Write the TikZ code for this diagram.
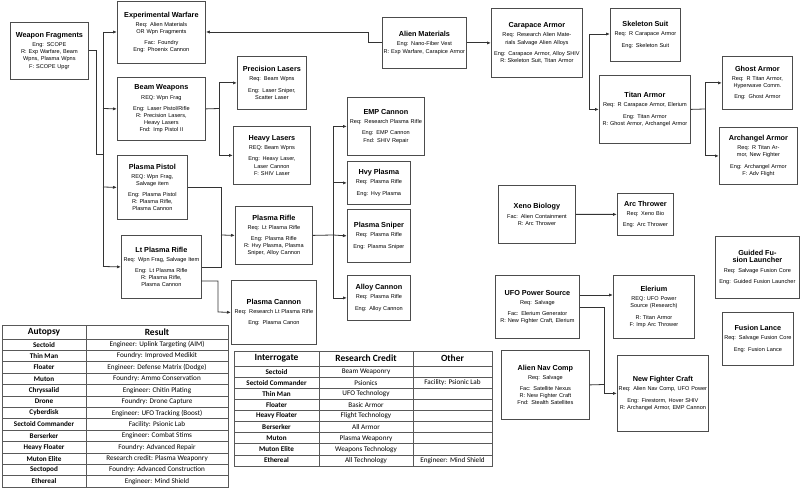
\documentclass[tikz,border=0pt]{standalone}
\usepackage{fontspec}
\setmainfont{Liberation Sans}
\newfontfamily\tblfont{Carlito}
\usetikzlibrary{arrows.meta}
\newcommand\ttl[1]{{\fontsize{7.3}{9}\selectfont\bfseries #1}\\[2pt]}
\begin{document}
\begin{tikzpicture}[x=1bp,y=-1bp,
  box/.style={draw=black!70, line width=0.8pt, fill=white, anchor=north west, align=center, inner sep=1pt, font=\fontsize{5.6}{7.2}\selectfont},
  con/.style={draw=black!80, line width=0.8pt},
  arr/.style={con, -{Latex[length=4pt,width=3.2pt]}},
  grid/.style={draw=black!65, line width=0.6pt},
  tb/.style={font=\tblfont\fontsize{7.2}{8}\selectfont\bfseries, inner sep=0pt},
  tr/.style={font=\tblfont\fontsize{7.2}{8}\selectfont, inner sep=0pt},
  th/.style={font=\tblfont\fontsize{9.5}{11}\selectfont\bfseries, inner sep=0pt}]
\useasboundingbox (0,0) rectangle (800,489);
\fill[white] (0,0) rectangle (800,489);
\newcommand\bx[6]{\node[box, text width=#3 bp - 2bp, minimum height=#4 bp] (#5) at (#1,#2) {#6};}
\bx{10}{22}{78}{57}{wf}{\ttl{Weapon Fragments}Eng: SCOPE\\R: Exp Warfare, Beam Wpns, Plasma Wpns\\F: SCOPE Upgr}
\bx{117}{1}{88}{62}{ew}{\ttl{Experimental Warfare}Req: Alien Materials OR Wpn Fragments\\[4pt]Fac: Foundry\\Eng: Phoenix Cannon}
\bx{117}{77}{88}{63}{bw}{\ttl{Beam Weapons}REQ: Wpn Frag\\[4pt]Eng: Laser Pistol/Rifle\\R: Precision Lasers, Heavy Lasers\\Fnd: Imp Pistol II}
\bx{237}{56}{69}{53}{pl}{\ttl{Precision Lasers}Req: Beam Wpns\\[4pt]Eng: Laser Sniper, Scatter Laser}
\bx{233}{126}{77}{58}{hl}{\ttl{Heavy Lasers}REQ: Beam Wpns\\[4pt]Eng: Heavy Laser, Laser Cannon\\F: SHIV Laser}
\bx{117}{155}{70}{64}{pp}{\ttl{Plasma Pistol}REQ: Wpn Frag, Salvage item\\[4pt]Eng: Plasma Pistol\\R: Plasma Rifle, Plasma Cannon}
\bx{121}{235}{80}{63}{lpr}{\ttl{Lt Plasma Rifle}Req: Wpn Frag, Salvage Item\\[4pt]Eng: Lt Plasma Rifle\\R: Plasma Rifle, Plasma Cannon}
\bx{235}{206}{77}{58}{pr}{\ttl{Plasma Rifle}Req: Lt Plasma Rifle\\[4pt]Eng: Plasma Rifle\\R: Hvy Plasma, Plasma Sniper, Alloy Cannon}
\bx{231}{280}{85}{64}{pc}{\ttl{Plasma Cannon}Req: Research Lt Plasma Rifle\\[4pt]Eng: Plasma Canon}
\bx{347}{97}{77}{58}{emp}{\ttl{EMP Cannon}Req: Research Plasma Rifle\\[4pt]Eng: EMP Cannon\\Fnd: SHIV Repair}
\bx{347}{161}{63}{43}{hvy}{\ttl{Hvy Plasma}Req: Plasma Rifle\\[4pt]Eng: Hvy Plasma}
\bx{347}{209}{63}{53}{sn}{\ttl{Plasma Sniper}Req: Plasma Rifle\\[4pt]Eng: Plasma Sniper}
\bx{347}{275}{63}{45}{al}{\ttl{Alloy Cannon}Req: Plasma Rifle\\[4pt]Eng: Alloy Cannon}
\bx{382}{17}{84}{51}{am}{\ttl{Alien Materials}Eng: Nano-Fiber Vest\\R: Exp Warfare, Carapice Armor}
\bx{491}{8}{91}{69}{ca}{\ttl{Carapace Armor}Req: Research Alien Materials Salvage Alien Alloys\\[4pt]Eng: Carapace Armor, Alloy SHIV\\R: Skeleton Suit, Titan Armor}
\bx{610}{8}{70}{53}{sk}{\ttl{Skeleton Suit}Req: R Carapace Armor\\[4pt]Eng: Skeleton Suit}
\bx{599}{75}{91}{68}{ti}{\ttl{Titan Armor}Req: R Carapace Armor, Elerium\\[4pt]Eng: Titan Armor\\R: Ghost Armor, Archangel Armor}
\bx{722}{56}{70}{53}{gh}{\ttl{Ghost Armor}Req: R Titan Armor, Hyperwave Comm.\\[4pt]Eng: Ghost Armor}
\bx{719}{127}{78}{57}{ar}{\ttl{Archangel Armor}Req: R Titan Armor, New Fighter\\[4pt]Eng: Archangel Armor\\F: Adv Flight}
\bx{498}{185}{77}{58}{xb}{\ttl{Xeno Biology}Fac: Alien Containment\\R: Arc Thrower}
\bx{617}{193}{56}{42}{at}{\ttl{Arc Thrower}Req: Xeno Bio\\[4pt]Eng: Arc Thrower}
\bx{715}{236}{84}{62}{gf}{\ttl{Guided Fusion Launcher}Req: Salvage Fusion Core\\[4pt]Eng: Guided Fusion Launcher}
\bx{722}{312}{71}{53}{fl}{\ttl{Fusion Lance}Req: Salvage Fusion Core\\[4pt]Eng: Fusion Lance}
\bx{495}{275}{84}{63}{ufo}{\ttl{UFO Power Source}Req: Salvage\\[4pt]Fac: Elerium Generator\\R: New Fighter Craft, Elerium}
\bx{613}{275}{81}{63}{el}{\ttl{Elerium}REQ: UFO Power Source (Research)\\[4pt]R: Titan Armor\\F: Imp Arc Thrower}
\bx{501}{350}{88}{69}{nav}{\ttl{Alien Nav Comp}Req: Salvage\\[4pt]Fac: Satellite Nexus\\R: New Fighter Craft\\Fnd: Stealth Satellites}
\bx{617}{355}{91}{76}{nfc}{\ttl{New Fighter Craft}Req: Alien Nav Comp, UFO Power\\[4pt]Eng: Firestorm, Hover SHIV\\R: Archangel Armor, EMP Cannon}
% connectors
\coordinate (wfj) at (96,154);
\coordinate (wft) at (103,154);
\draw[con] (wf.east) -| (wfj) -- (wft);
\draw[con] (103,32) -- (103,266);
\draw[arr] (103,32) -- (ew.west|-0,32);
\draw[arr] (103,108.5) -- (bw.west);
\draw[arr] (103,187) -- (pp.west);
\draw[arr] (103,266.5) -- (lpr.west);
\draw[arr] (am.west) -| (368,32) -- (ew.east|-0,32);
\coordinate (bwj) at (219,108.5);
\draw[con] (bw.east) -- (bwj);
\draw[arr] (bwj) |- (pl.west);
\draw[arr] (bwj) |- (hl.west);
\coordinate (ppj) at (221,235);
\draw[con] (pp.east) -| (ppj);
\draw[con] (lpr.east) -| (ppj);
\draw[arr] (ppj) -- (pr.west);
\draw[arr] (201,281) -| (218,312) -- (pc.west);
\coordinate (prj) at (333,235);
\draw[con] (pr.east) -- (prj);
\draw[arr] (prj) |- (emp.west);
\draw[arr] (prj) |- (hvy.west);
\draw[arr] (prj) -- (sn.west);
\draw[arr] (prj) |- (al.west);
\draw[arr] (am.east) -- (ca.west|-am.east);
\coordinate (caj) at (589,71);
\draw[arr] (caj) |- (sk.west|-0,34);
\draw[arr] (caj) |- (ti.west);
\coordinate (tij) at (705,109);
\draw[con] (ti.east) -- (tij);
\draw[arr] (tij) |- (gh.west);
\draw[arr] (tij) |- (ar.west);
\draw[arr] (xb.east) -- (at.west);
\draw[arr] (ufo.east|-0,295) -- (el.west|-0,295);
\coordinate (ufj) at (604,384.5);
\draw[con] (ufo.east|-0,307) -| (ufj);
\draw[con] (nav.east) -- (ufj);
\draw[arr] (ufj) |- (nfc.west);
% Autopsy table
\draw[grid] (2,325) rectangle (228,487);
\draw[grid] (86,325) -- (86,487);
\foreach \k in {0,...,12} \draw[grid] (2,339+\k*11.39) -- (228,339+\k*11.39);
\node[th] (ah1) at (44,332) {Autopsy};
\node[th] (ah2) at (157,332) {Result};
\foreach \a/\b [count=\i] in {Sectoid/Engineer: Uplink Targeting (AIM),Thin Man/Foundry: Improved Medikit,Floater/Engineer: Defense Matrix (Dodge),Muton/Foundry: Ammo Conservation,Chryssalid/Engineer: Chitin Plating,Drone/Foundry: Drone Capture,Cyberdisk/Engineer: UFO Tracking (Boost),Sectoid Commander/Facility: Psionic Lab,Berserker/Engineer: Combat Stims,Heavy Floater/Foundry: Advanced Repair,Muton Elite/Research credit: Plasma Weaponry,Sectopod/Foundry: Advanced Construction,Ethereal/Engineer: Mind Shield}{
  \node[tb] (aa\i) at (44,339+\i*11.39-5.7) {\a};
  \node[tr] (ab\i) at (157,339+\i*11.39-5.7) {\b};
}
% Interrogate table
\draw[grid] (234,351) rectangle (492,466);
\draw[grid] (319,351) -- (319,466);
\draw[grid] (413,351) -- (413,466);
\foreach \k in {0,...,8} \draw[grid] (234,366+\k*11.11) -- (492,366+\k*11.11);
\node[th] (ih1) at (276.5,358.5) {Interrogate};
\node[th] (ih2) at (366,358.5) {Research Credit};
\node[th] (ih3) at (452.5,358.5) {Other};
\foreach \a/\b/\c [count=\i] in {Sectoid/Beam Weaponry/{},Sectoid Commander/Psionics/Facility: Psionic Lab,Thin Man/UFO Technology/{},Floater/Basic Armor/{},Heavy Floater/Flight Technology/{},Berserker/All Armor/{},Muton/Plasma Weaponry/{},Muton Elite/Weapons Technology/{},Ethereal/All Technology/Engineer: Mind Shield}{
  \node[tb] (ia\i) at (276.5,366+\i*11.11-5.55) {\a};
  \node[tr] (ib\i) at (366,366+\i*11.11-5.55) {\b};
  \node[tr] (ic\i) at (452.5,366+\i*11.11-5.55) {\c};
}
\end{tikzpicture}
\end{document}
